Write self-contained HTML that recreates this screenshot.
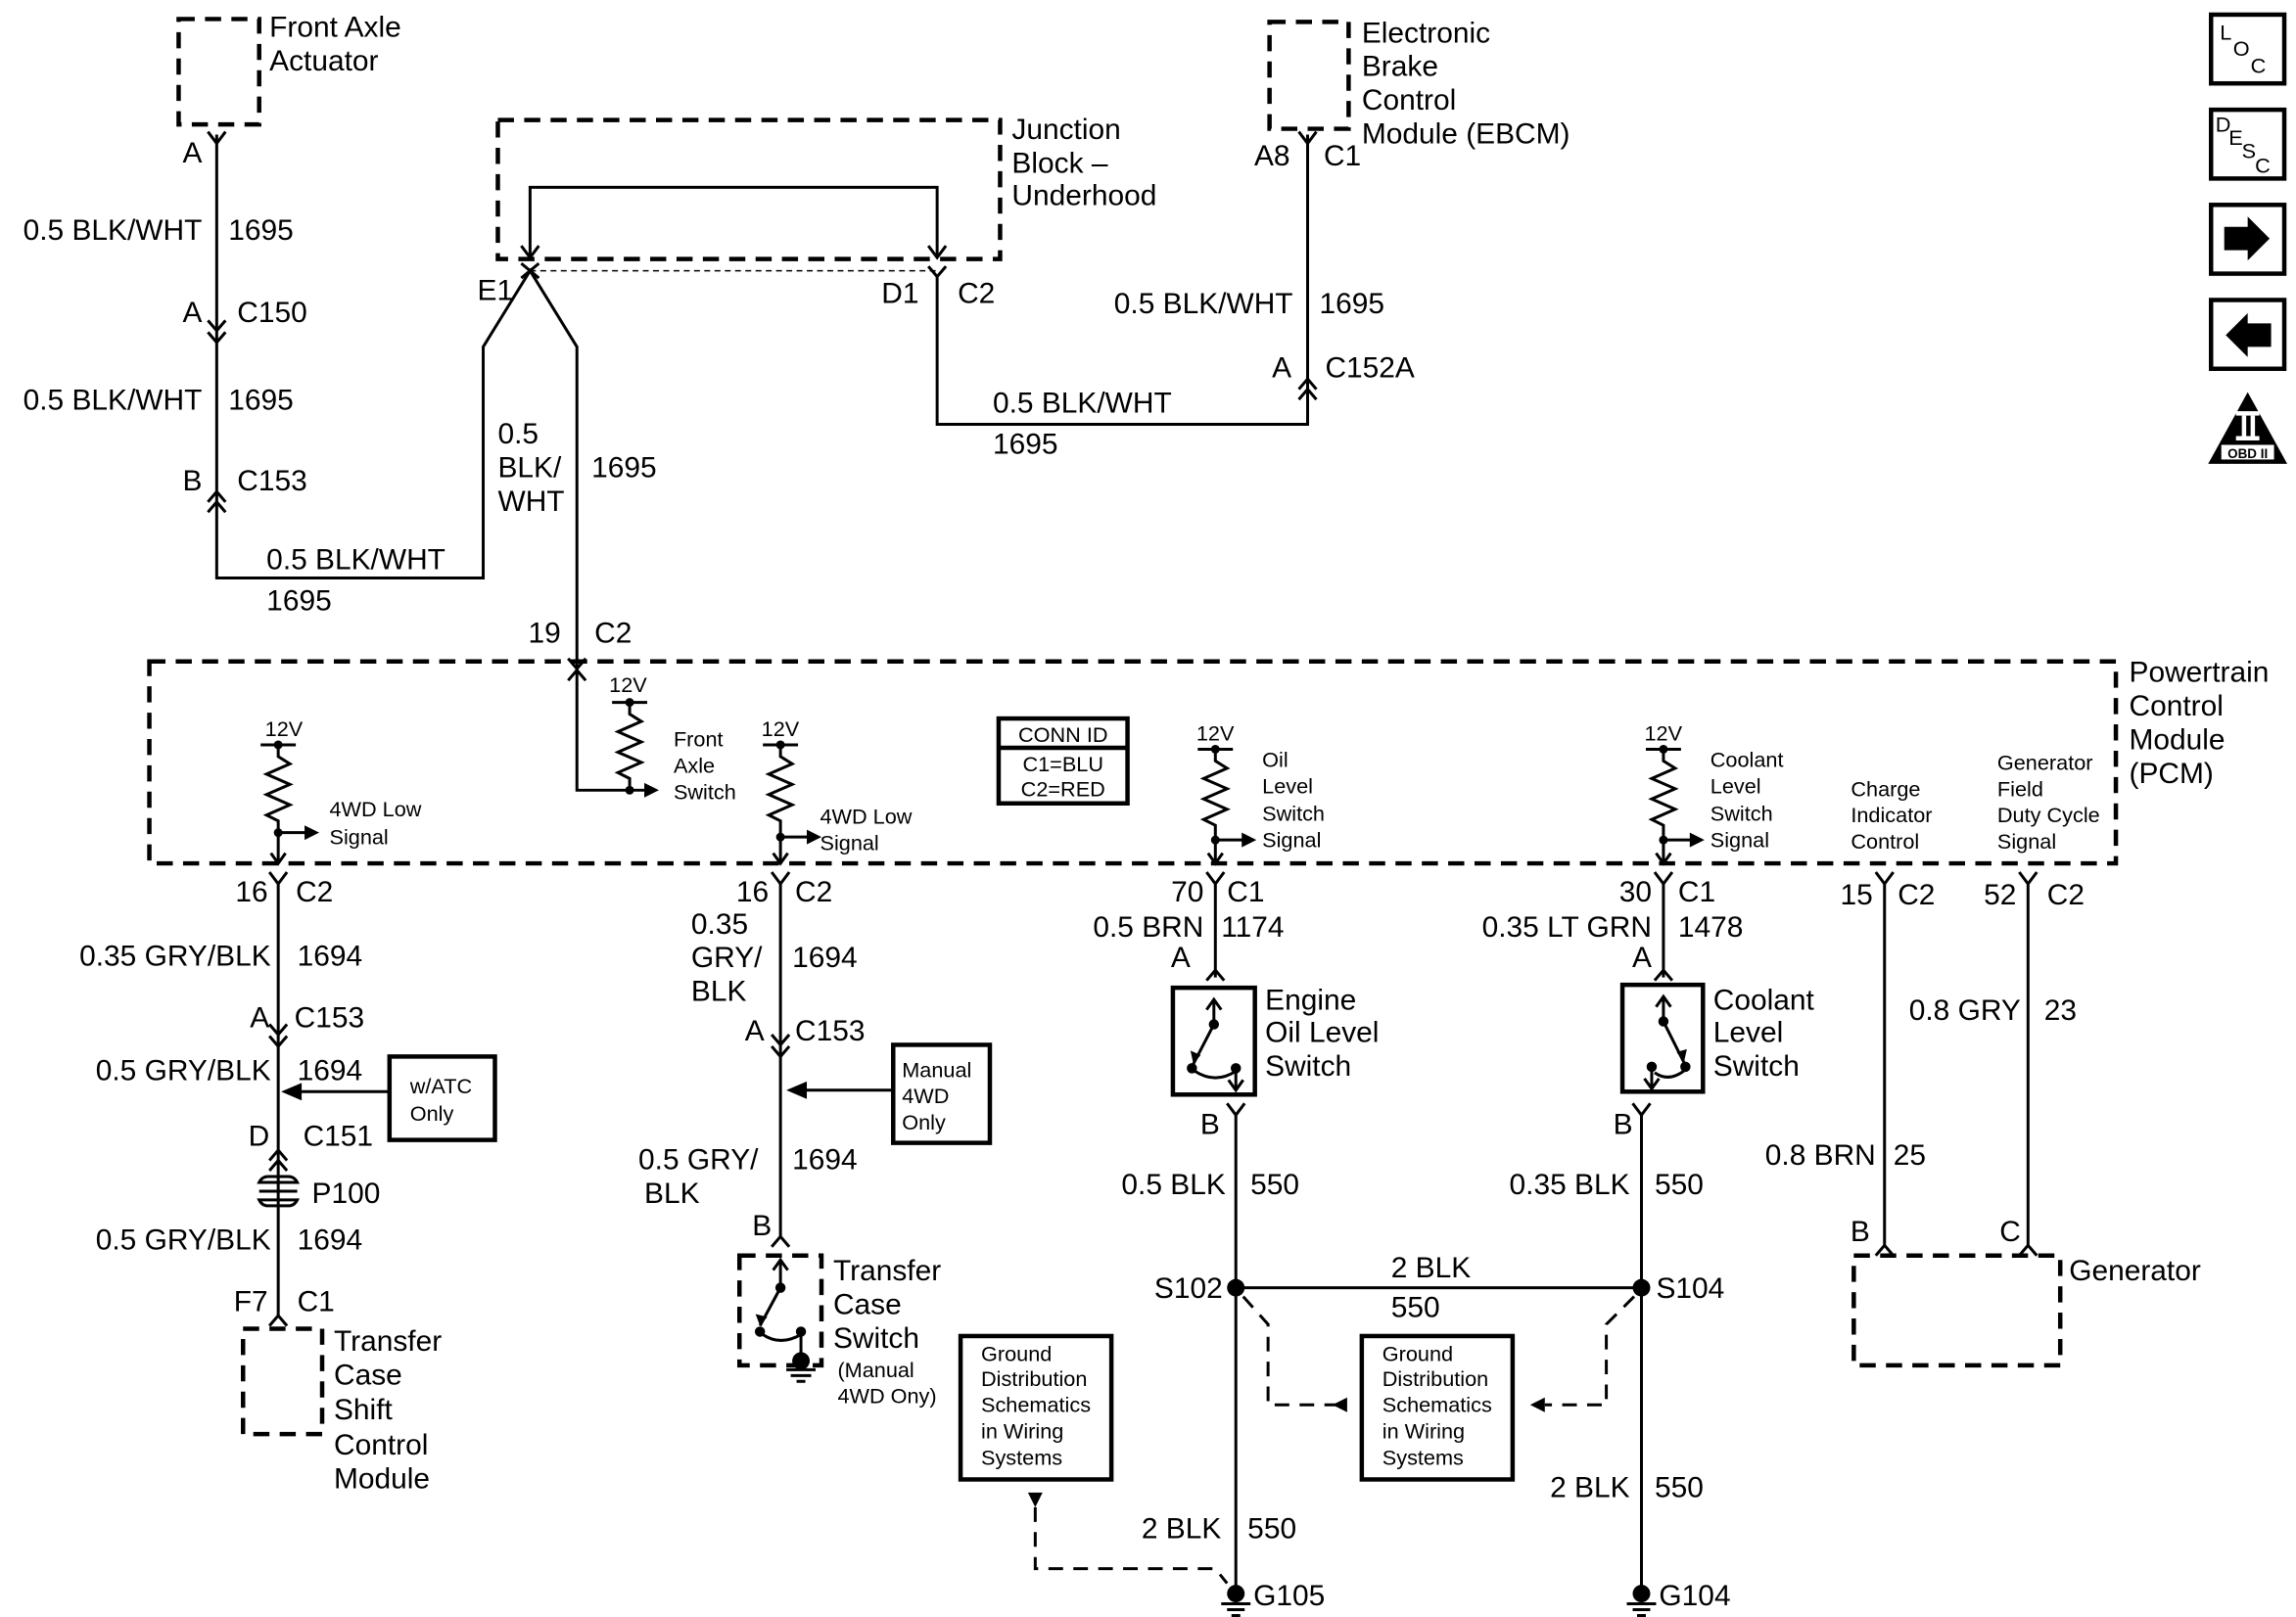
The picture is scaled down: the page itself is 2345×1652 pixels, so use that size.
<!DOCTYPE html>
<html><head><meta charset="utf-8"><style>
html,body{margin:0;padding:0;background:#fff}
svg{display:block}
text{font-family:"Liberation Sans",Arial,sans-serif;fill:#000}
.L{font-size:20px}.S{font-size:14.5px}.M{font-size:15px}
</style></head><body>
<svg width="2345" height="1652" viewBox="0 0 1568 1105" preserveAspectRatio="none" xmlns="http://www.w3.org/2000/svg">
<g fill="none" stroke="#000" stroke-width="2">
<g stroke-dasharray="11,7" stroke-width="3">
<rect x="122" y="13" width="55" height="72"/>
<rect x="867" y="15" width="54" height="73"/>
<rect x="340" y="82" width="343" height="95"/>
<rect x="102" y="452" width="1343" height="138"/>
<rect x="166" y="908" width="54" height="72"/>
<rect x="505" y="858" width="56" height="75"/>
<rect x="1266" y="858" width="141" height="75"/>
</g>
<path d="M148 92 V395 H330 V237 L362 185 L394 237 V540 H440"/>
<path d="M142 90 L148 98 L154 90"/>
<path d="M142 219 L148 226 L154 219 M142 227 L148 234 L154 227"/>
<path d="M142 343 L148 336 L154 343 M142 350 L148 343 L154 350"/>
<path d="M388 450 L394 457 L400 450 M388 465 L394 458 L400 465"/>
<path d="M362 175 V128 H640 V175"/>
<path d="M356 168 L362 176 L368 168 M634 168 L640 176 L646 168"/>
<path d="M356 180 L368 190 M368 180 L356 190"/>
<path d="M362 185 H640" stroke-width="1" stroke-dasharray="4,3"/>
<path d="M634 182 L640 189 L646 182"/>
<path d="M640 189 V290 H893 V92"/>
<path d="M887 90 L893 98 L899 90"/>
<path d="M887 266 L893 259 L899 266 M887 273 L893 266 L899 273"/>
<path d="M418 480 H442 M430 480 v8 l8 5 l-16 7 l16 7 l-16 7 l16 7 l-16 7 l8 4 V540"/>
<path d="M178 509 H202 M190 509 v8 l8 5 l-16 7 l16 7 l-16 7 l16 7 l-16 7 l8 4 V590 M185 583 L190 590 L195 583 M190 569 H210"/>
<path d="M521 509 H545 M533 509 v8 l8 5 l-16 7 l16 7 l-16 7 l16 7 l-16 7 l8 4 V590 M528 583 L533 590 L538 583 M533 572 H553"/>
<path d="M818 512 H842 M830 512 v8 l8 5 l-16 7 l16 7 l-16 7 l16 7 l-16 7 l8 4 V590 M825 583 L830 590 L835 583 M830 574 H850"/>
<path d="M1124 512 H1148 M1136 512 v8 l8 5 l-16 7 l16 7 l-16 7 l16 7 l-16 7 l8 4 V590 M1131 583 L1136 590 L1141 583 M1136 574 H1156"/>
<path d="M184 596 L190 604 L196 596 M190 604 V900"/>
<path d="M184 700 L190 707 L196 700 M184 708 L190 715 L196 708"/>
<path d="M184 793 L190 786 L196 793 M184 800 L190 793 L196 800"/>
<path d="M184 906 L190 899 L196 906"/>
<rect x="266" y="722" width="72" height="57" stroke-width="3"/>
<path d="M266 746 H205"/>
<path d="M177 808 q2 -4 6 -4 h14 q4 0 6 4 z M177 820 q2 4 6 4 h14 q4 0 6 -4 z M177 814 H203"/>
<path d="M527 596 L533 604 L539 596 M533 604 V846"/>
<path d="M527 707 L533 714 L539 707 M527 715 L533 722 L539 715"/>
<path d="M527 852 L533 845 L539 852"/>
<rect x="610" y="714" width="66" height="67" stroke-width="3"/>
<path d="M610 745 H550"/>
<path d="M533 878 V862 M528 868 L533 861 L538 868 M533 880 L519 906 M547 910 V930 M521 912 Q533 920 547 912" />
<rect x="682" y="491" width="88" height="58" stroke-width="3"/>
<path d="M682 511 H770" stroke-width="3"/>
<path d="M824 596 L830 604 L836 596 M830 604 V668 M824 670 L830 663 L836 670"/>
<rect x="801" y="675" width="56" height="73" stroke-width="3"/>
<path d="M829 700 V684 M824 690 L829 683 L834 690 M829 700 L815 727 M844 730 V744 M839 738 L844 745 L849 738 M816 732 Q830 741 844 732"/>
<path d="M838 754 L844 762 L850 754 M844 762 V1085 M844 880 H1121 V1085 M1121 762 V880 M1115 754 L1121 762 L1127 754"/>
<path d="M1130 596 L1136 604 L1142 596 M1136 604 V668 M1130 670 L1136 663 L1142 670"/>
<rect x="1108" y="673" width="55" height="73" stroke-width="3"/>
<path d="M1136 698 V682 M1131 688 L1136 681 L1141 688 M1136 698 L1150 726 M1128 729 V743 M1123 737 L1128 744 L1133 737 M1130 733 Q1140 740 1151 731"/>
<path d="M1281 596 L1287 604 L1293 596 M1287 604 V852 M1281 858 L1287 851 L1293 858"/>
<path d="M1379 596 L1385 604 L1391 596 M1385 604 V852 M1379 858 L1385 851 L1391 858"/>
<rect x="656" y="913" width="103" height="98" stroke-width="3"/>
<rect x="930" y="913" width="103" height="98" stroke-width="3"/>
<g stroke-dasharray="10,7">
<path d="M849 886 L866 905 V960 H915"/>
<path d="M1116 886 L1097 905 V960 H1055"/>
<path d="M707 1030 V1072 H830 L838 1082"/>
</g>
<g stroke-width="3">
<rect x="1510" y="10" width="50" height="47"/>
<rect x="1510" y="75" width="50" height="47"/>
<rect x="1510" y="140" width="50" height="47"/>
<rect x="1510" y="205" width="50" height="47"/>
</g>
</g>
<g fill="#000">
<polygon points="440,535 450,540 440,545"/><circle cx="430" cy="540" r="3"/><circle cx="430" cy="480" r="3"/>
<polygon points="208,564 218,569 208,574"/><circle cx="190" cy="569" r="3"/><circle cx="190" cy="509" r="3"/>
<polygon points="551,567 561,572 551,577"/><circle cx="533" cy="572" r="3"/><circle cx="533" cy="509" r="3"/>
<polygon points="848,569 858,574 848,579"/><circle cx="830" cy="574" r="3"/><circle cx="830" cy="512" r="3"/>
<polygon points="1154,569 1164,574 1154,579"/><circle cx="1136" cy="574" r="3"/><circle cx="1136" cy="512" r="3"/>
<polygon points="192,746 206,740 206,752"/>
<polygon points="537,745 551,739 551,751"/>
<polygon points="519,906 516,898 524,900"/>
<circle cx="533" cy="880" r="3.5"/><circle cx="519" cy="910" r="3.5"/><circle cx="547" cy="910" r="3.5"/>
<circle cx="547" cy="930" r="6"/>
<circle cx="829" cy="700" r="3.5"/><circle cx="814" cy="730" r="3.5"/><circle cx="844" cy="730" r="3.5"/>
<polygon points="815,727 813,718 820,721"/>
<circle cx="1136" cy="698" r="3.5"/><circle cx="1151" cy="729" r="3.5"/><circle cx="1128" cy="729" r="3.5"/>
<polygon points="1150,726 1145,719 1152,717"/>
<circle cx="844" cy="880" r="6"/><circle cx="1121" cy="880" r="6"/>
<circle cx="844" cy="1089" r="6"/><circle cx="1121" cy="1089" r="6"/>
<polygon points="910,960 920,955 920,965"/>
<polygon points="1055,955 1055,965 1045,960"/>
<polygon points="702,1020 712,1020 707,1030"/>
<polygon points="1519,155 1535,155 1535,148 1550,163 1535,178 1535,171 1519,171"/>
<polygon points="1551,221 1535,221 1535,214 1520,229 1535,244 1535,237 1551,237"/>
<polygon points="1535,268 1508,317 1562,317"/>
</g>
<g fill="none" stroke="#000" stroke-width="2">
<path d="M537 936 h20 M540 940 h14 M544 944 h6"/>
<path d="M834 1096 h20 M838 1100 h12 M841 1104 h6"/>
<path d="M1111 1096 h20 M1115 1100 h12 M1118 1104 h6"/>
</g>
<rect x="1527" y="281" width="16" height="3" fill="#fff"/><rect x="1527" y="298" width="16" height="3" fill="#fff"/>
<rect x="1531" y="284" width="3" height="14" fill="#fff"/><rect x="1537" y="284" width="3" height="14" fill="#fff"/>
<rect x="1517" y="304" width="36" height="10" fill="#fff"/>
<text x="1535" y="313" font-size="9" font-weight="bold" text-anchor="middle">OBD II</text>
<text x="1516" y="27" class="S">L</text><text x="1525" y="38" class="S">O</text><text x="1537" y="50" class="S">C</text>
<text x="1513" y="90" class="S">D</text><text x="1522" y="99" class="S">E</text><text x="1531" y="108" class="S">S</text><text x="1540" y="118" class="S">C</text>
<g class="L">
<text x="184" y="25">Front Axle</text><text x="184" y="48">Actuator</text>
<text x="138" y="111" text-anchor="end">A</text>
<text x="138" y="164" text-anchor="end">0.5 BLK/WHT</text><text x="156" y="164">1695</text>
<text x="138" y="220" text-anchor="end">A</text><text x="162" y="220">C150</text>
<text x="138" y="280" text-anchor="end">0.5 BLK/WHT</text><text x="156" y="280">1695</text>
<text x="138" y="335" text-anchor="end">B</text><text x="162" y="335">C153</text>
<text x="182" y="389">0.5 BLK/WHT</text><text x="182" y="417">1695</text>
<text x="340" y="303">0.5</text><text x="340" y="326">BLK/</text><text x="340" y="349">WHT</text><text x="404" y="326">1695</text>
<text x="383" y="439" text-anchor="end">19</text><text x="406" y="439">C2</text>
<text x="691" y="95">Junction</text><text x="691" y="118">Block –</text><text x="691" y="140">Underhood</text>
<text x="326" y="205">E1</text><text x="602" y="207">D1</text><text x="654" y="207">C2</text>
<text x="930" y="29">Electronic</text><text x="930" y="52">Brake</text><text x="930" y="75">Control</text><text x="930" y="98">Module (EBCM)</text>
<text x="881" y="113" text-anchor="end">A8</text><text x="904" y="113">C1</text>
<text x="883" y="214" text-anchor="end">0.5 BLK/WHT</text><text x="901" y="214">1695</text>
<text x="882" y="258" text-anchor="end">A</text><text x="905" y="258">C152A</text>
<text x="678" y="282">0.5 BLK/WHT</text><text x="678" y="310">1695</text>
<text x="1454" y="466">Powertrain</text><text x="1454" y="489">Control</text><text x="1454" y="512">Module</text><text x="1454" y="535">(PCM)</text>
<text x="183" y="616" text-anchor="end">16</text><text x="202" y="616">C2</text>
<text x="185" y="660" text-anchor="end">0.35 GRY/BLK</text><text x="203" y="660">1694</text>
<text x="184" y="702" text-anchor="end">A</text><text x="201" y="702">C153</text>
<text x="185" y="738" text-anchor="end">0.5 GRY/BLK</text><text x="203" y="738">1694</text>
<text x="184" y="783" text-anchor="end">D</text><text x="207" y="783">C151</text>
<text x="213" y="822">P100</text>
<text x="185" y="854" text-anchor="end">0.5 GRY/BLK</text><text x="203" y="854">1694</text>
<text x="183" y="896" text-anchor="end">F7</text><text x="203" y="896">C1</text>
<text x="228" y="923">Transfer</text><text x="228" y="946">Case</text><text x="228" y="970">Shift</text><text x="228" y="994">Control</text><text x="228" y="1017">Module</text>
<text x="525" y="616" text-anchor="end">16</text><text x="543" y="616">C2</text>
<text x="472" y="638">0.35</text><text x="472" y="661">GRY/</text><text x="472" y="684">BLK</text><text x="541" y="661">1694</text>
<text x="522" y="711" text-anchor="end">A</text><text x="543" y="711">C153</text>
<text x="436" y="799">0.5 GRY/</text><text x="440" y="822">BLK</text><text x="541" y="799">1694</text>
<text x="527" y="844" text-anchor="end">B</text>
<text x="569" y="875">Transfer</text><text x="569" y="898">Case</text><text x="569" y="921">Switch</text>
<text x="822" y="616" text-anchor="end">70</text><text x="838" y="616">C1</text>
<text x="822" y="640" text-anchor="end">0.5 BRN</text><text x="834" y="640">1174</text>
<text x="813" y="661" text-anchor="end">A</text>
<text x="864" y="690">Engine</text><text x="864" y="712">Oil Level</text><text x="864" y="735">Switch</text>
<text x="833" y="775" text-anchor="end">B</text>
<text x="837" y="816" text-anchor="end">0.5 BLK</text><text x="854" y="816">550</text>
<text x="835" y="887" text-anchor="end">S102</text>
<text x="950" y="873">2 BLK</text><text x="950" y="900">550</text>
<text x="834" y="1051" text-anchor="end">2 BLK</text><text x="852" y="1051">550</text>
<text x="856" y="1097">G105</text>
<text x="1128" y="616" text-anchor="end">30</text><text x="1146" y="616">C1</text>
<text x="1128" y="640" text-anchor="end">0.35 LT GRN</text><text x="1146" y="640">1478</text>
<text x="1128" y="661" text-anchor="end">A</text>
<text x="1170" y="690">Coolant</text><text x="1170" y="712">Level</text><text x="1170" y="735">Switch</text>
<text x="1115" y="775" text-anchor="end">B</text>
<text x="1113" y="816" text-anchor="end">0.35 BLK</text><text x="1130" y="816">550</text>
<text x="1131" y="887">S104</text>
<text x="1113" y="1023" text-anchor="end">2 BLK</text><text x="1130" y="1023">550</text>
<text x="1133" y="1097">G104</text>
<text x="1279" y="618" text-anchor="end">15</text><text x="1296" y="618">C2</text>
<text x="1377" y="618" text-anchor="end">52</text><text x="1398" y="618">C2</text>
<text x="1380" y="697" text-anchor="end">0.8 GRY</text><text x="1396" y="697">23</text>
<text x="1281" y="796" text-anchor="end">0.8 BRN</text><text x="1293" y="796">25</text>
<text x="1277" y="848" text-anchor="end">B</text><text x="1380" y="848" text-anchor="end">C</text>
<text x="1413" y="875">Generator</text>
</g>
<g class="S">
<text x="416" y="473">12V</text><text x="460" y="510">Front</text><text x="460" y="528">Axle</text><text x="460" y="546">Switch</text>
<text x="181" y="503">12V</text><text x="225" y="558">4WD Low</text><text x="225" y="577">Signal</text>
<text x="520" y="503">12V</text><text x="560" y="563">4WD Low</text><text x="560" y="581">Signal</text>
<text x="817" y="506">12V</text><text x="862" y="524">Oil</text><text x="862" y="542">Level</text><text x="862" y="561">Switch</text><text x="862" y="579">Signal</text>
<text x="1123" y="506">12V</text><text x="1168" y="524">Coolant</text><text x="1168" y="542">Level</text><text x="1168" y="561">Switch</text><text x="1168" y="579">Signal</text>
<text x="1264" y="544">Charge</text><text x="1264" y="562">Indicator</text><text x="1264" y="580">Control</text>
<text x="1364" y="526">Generator</text><text x="1364" y="544">Field</text><text x="1364" y="562">Duty Cycle</text><text x="1364" y="580">Signal</text>
<text x="726" y="507" text-anchor="middle">CONN ID</text><text x="726" y="527" text-anchor="middle">C1=BLU</text><text x="726" y="544" text-anchor="middle">C2=RED</text>
<text x="280" y="747">w/ATC</text><text x="280" y="766">Only</text>
<text x="616" y="736">Manual</text><text x="616" y="754">4WD</text><text x="616" y="772">Only</text>
<text x="572" y="941">(Manual</text><text x="572" y="959">4WD Ony)</text>
<text x="670" y="930">Ground</text><text x="670" y="947">Distribution</text><text x="670" y="965">Schematics</text><text x="670" y="983">in Wiring</text><text x="670" y="1001">Systems</text>
<text x="944" y="930">Ground</text><text x="944" y="947">Distribution</text><text x="944" y="965">Schematics</text><text x="944" y="983">in Wiring</text><text x="944" y="1001">Systems</text>
</g>
</svg>
</body></html>
